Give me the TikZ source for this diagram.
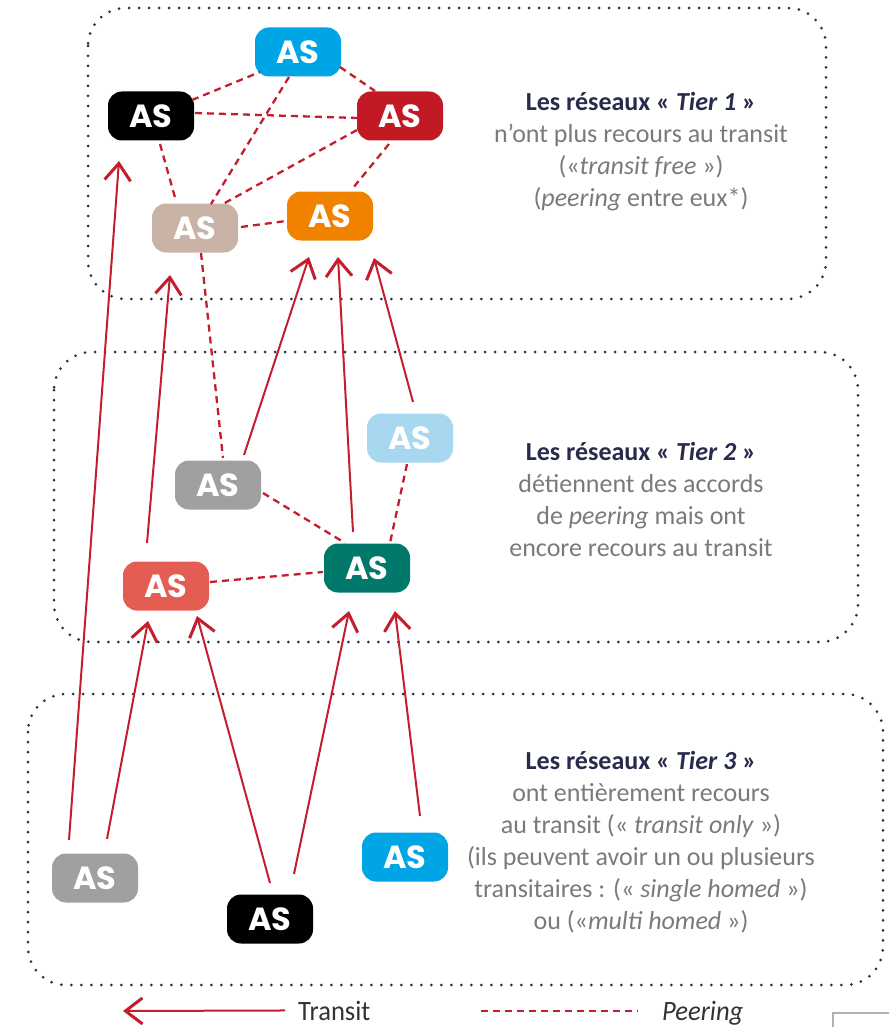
\documentclass[tikz,border=0pt]{standalone}
\usepackage{fontspec}
\setmainfont{Carlito}
\newfontfamily\asfont{Poppins}
\newfontfamily\legendfont[FakeStretch=0.95]{Carlito}
\usetikzlibrary{arrows.meta,calc}

\definecolor{framenavy}{HTML}{2B2E4A}
\definecolor{headnavy}{HTML}{282B4C}
\definecolor{bodygray}{HTML}{7A7A7A}
\definecolor{linered}{HTML}{C41E2E}
\definecolor{ascyan}{HTML}{00A5E6}
\definecolor{asblack}{HTML}{000000}
\definecolor{asred}{HTML}{C21A24}
\definecolor{asbeige}{HTML}{C9B2A6}
\definecolor{asorange}{HTML}{F08200}
\definecolor{aslightblue}{HTML}{A8D8F0}
\definecolor{asgray}{HTML}{A0A0A0}
\definecolor{ascoral}{HTML}{E35D52}
\definecolor{asteal}{HTML}{00786A}
\definecolor{cornergray}{HTML}{B0B0B0}
\definecolor{legendtext}{HTML}{333333}

\tikzset{
  asbox/.style={rounded corners=14pt, minimum width=86pt, minimum height=49pt,
    inner sep=0pt, text=white, font=\asfont\bfseries\fontsize{32}{32}\selectfont},
  tierframe/.style={draw=framenavy, line width=3pt, line cap=round,
    dash pattern=on 0pt off 10pt, rounded corners=38pt},
  transit/.style={draw=linered, line width=2pt,
    -{Straight Barb[length=17pt,width=26pt,line width=3pt]}},
  peering/.style={draw=linered, line width=2.3pt, dash pattern=on 7pt off 5pt},
  tiertext/.style={align=center, text=bodygray, inner sep=0pt,
    font=\fontsize{26}{32}\selectfont},
  legendtxt/.style={inner sep=0pt, text=legendtext,
    font=\legendfont\fontsize{28}{28}\selectfont},
}

\begin{document}
\begin{tikzpicture}[x=1pt, y=-1pt]
\useasboundingbox (0,0) rectangle (889,1027);

% tier frames
\draw[tierframe] (88,8) rectangle (826,299);
\draw[tierframe] (54,352) rectangle (858,642);
\draw[tierframe] (28,694) rectangle (883,985);

% Tier 1 networks
\node[asbox, fill=ascyan]   (t1blue)   at (298,52)  {AS};
\node[asbox, fill=asblack]  (t1black)  at (151,116) {AS};
\node[asbox, fill=asred]    (t1red)    at (400,116) {AS};
\node[asbox, fill=asbeige]  (t1beige)  at (195,228) {AS};
\node[asbox, fill=asorange] (t1orange) at (330,216) {AS};

% Tier 2 networks
\node[asbox, fill=aslightblue] (t2lblue) at (410,438) {AS};
\node[asbox, fill=asgray]      (t2gray)  at (218,485) {AS};
\node[asbox, fill=ascoral]     (t2coral) at (166,586) {AS};
\node[asbox, fill=asteal]      (t2teal)  at (367,568) {AS};

% Tier 3 networks
\node[asbox, fill=asgray]  (t3gray)  at (95,878)  {AS};
\node[asbox, fill=asblack] (t3black) at (270,919) {AS};
\node[asbox, fill=ascyan]  (t3blue)  at (405,857) {AS};

% peering links
\draw[peering] ($(t1black)+(41,-16)$) -- ($(t1blue)+(-38,20)$);
\draw[peering] ($(t1blue)+(42,15)$)   -- ($(t1red)+(-25,-25)$);
\draw[peering] ($(t1black)+(44,-3)$)  -- ($(t1red)+(-43,2)$);
\draw[peering] ($(t1blue)+(-9,25)$)   -- ($(t1beige)+(16,-24)$);
\draw[peering] ($(t1black)+(9,28)$)   -- ($(t1beige)+(-19,-27)$);
\draw[peering] ($(t1red)+(-43,14)$)   -- ($(t1beige)+(28,-24)$);
\draw[peering] ($(t1red)+(-11,28)$)   -- ($(t1orange)+(23,-28)$);
\draw[peering] ($(t1beige)+(46,-1)$)  -- ($(t1orange)+(-44,5)$);
\draw[peering] ($(t1beige)+(6,25)$)   -- ($(t2gray)+(5,-27)$);
\draw[peering] ($(t2gray)+(45,8)$)    -- ($(t2teal)+(-22,-25)$);
\draw[peering] ($(t2lblue)+(-3,26)$)  -- ($(t2teal)+(23,-25)$);
\draw[peering] ($(t2coral)+(44,-4)$)  -- ($(t2teal)+(-44,4)$);

% transit links
\draw[transit] ($(t3gray)+(-26,-38)$)  -- ($(t1black)+(-32,45)$);
\draw[transit] ($(t3gray)+(12,-39)$)   -- ($(t2coral)+(-18,35)$);
\draw[transit] ($(t3black)+(0,-36)$)   -- ($(t2coral)+(31,30)$);
\draw[transit] ($(t3black)+(24,-45)$)  -- ($(t2teal)+(-18,43)$);
\draw[transit] ($(t3blue)+(15,-41)$)   -- ($(t2teal)+(28,43)$);
\draw[transit] ($(t2coral)+(-19,-43)$) -- ($(t1beige)+(-25,47)$);
\draw[transit] ($(t2gray)+(26,-30)$)   -- ($(t1orange)+(-21,41)$);
\draw[transit] ($(t2teal)+(-14,-36)$)  -- ($(t1orange)+(8,41)$);
\draw[transit] ($(t2lblue)+(3,-36)$)   -- ($(t1orange)+(44,42)$);

% tier descriptions
\node[tiertext] (tier1txt) at (641,152)
  {{\bfseries\color{headnavy}Les réseaux « \textit{Tier 1} »}\\
   n’ont plus recours au transit\\
   («\textit{transit free} »)\\
   (\textit{peering} entre eux*)};
\node[tiertext] (tier2txt) at (641,499)
  {{\bfseries\color{headnavy}Les réseaux « \textit{Tier 2} »}\\
   détiennent des accords\\
   de \textit{peering} mais ont\\
   encore recours au transit};
\node[tiertext] (tier3txt) at (641,842)
  {{\bfseries\color{headnavy}Les réseaux « \textit{Tier 3} »}\\
   ont entièrement recours\\
   au transit (« \textit{transit only} »)\\
   (ils peuvent avoir un ou plusieurs\\
   transitaires : (« \textit{single homed} »)\\
   ou («\textit{multi homed} »)};

% legend
\coordinate (legtip) at (123,1011);
\node[legendtxt, anchor=base west] (legtransit) at (298,1020) {Transit};
\draw[transit] ([xshift=-13pt]legtransit.west) -- (legtip);
\coordinate (peerA) at (481,1011);
\coordinate (peerB) at (638,1011);
\draw[draw=linered, line width=1.8pt, dash pattern=on 7pt off 5pt] (peerA) -- (peerB);
\node[legendtxt, anchor=base west] (legpeering) at (662,1020) {\textit{Peering}};

% corner mark
\draw[cornergray, line width=1.5pt] (833,1027) -- (833,1013) -- (889,1013);
\end{tikzpicture}
\end{document}
